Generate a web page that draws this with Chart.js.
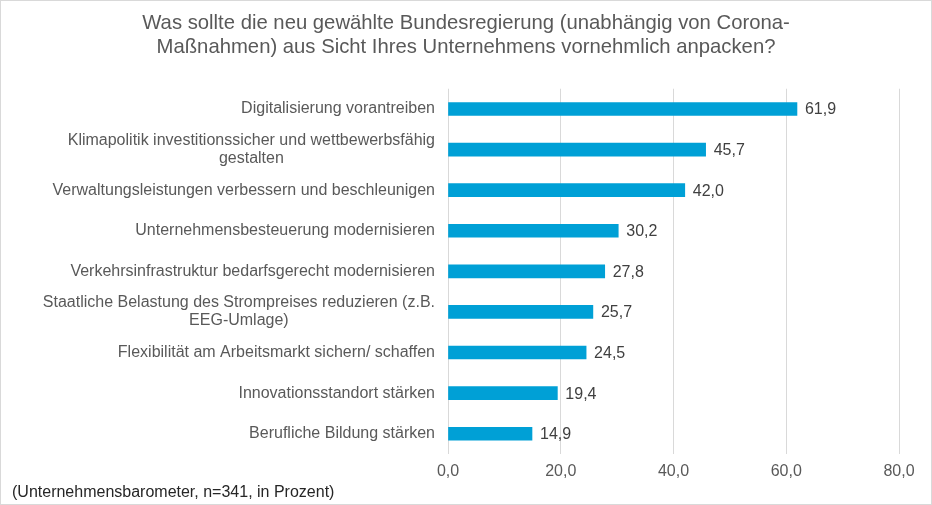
<!DOCTYPE html>
<html>
<head>
<meta charset="utf-8">
<script src="https://cdn.jsdelivr.net/npm/chart.js@4"></script>
<style>
    html, body { margin: 0; padding: 0; background: #fff; }
    #wrap { position: relative; width: 930px; height: 503px; border: 1px solid #d9d9d9; }
</style>
</head>
<body>
<div id="wrap"><canvas id="barChart"></canvas></div>
<script>
// Categories (top to bottom) and their values in percent
const categories = [
    ["Digitalisierung vorantreiben"],
    ["Klimapolitik investitionssicher und wettbewerbsfähig", "gestalten"],
    ["Verwaltungsleistungen verbessern und beschleunigen"],
    ["Unternehmensbesteuerung modernisieren"],
    ["Verkehrsinfrastruktur bedarfsgerecht modernisieren"],
    ["Staatliche Belastung des Strompreises reduzieren (z.B.", "EEG-Umlage)"],
    ["Flexibilität am Arbeitsmarkt sichern/ schaffen"],
    ["Innovationsstandort stärken"],
    ["Berufliche Bildung stärken"]
];
const values = [61.9, 45.7, 42.0, 30.2, 27.8, 25.7, 24.5, 19.4, 14.9];
const xTicks = [0, 20, 40, 60, 80];

const titleLines = [
    "Was sollte die neu gewählte Bundesregierung (unabhängig von Corona-",
    "Maßnahmen) aus Sicht Ihres Unternehmens vornehmlich anpacken?"
];
const footnote = "(Unternehmensbarometer, n=341, in Prozent)";

const fontFamily = "'Liberation Sans', Arial, sans-serif";
const textColor = '#595959';

function fmt(v) {
    return v.toFixed(1).replace('.', ',');
}

// Draws category labels (lines centred under the first line, block right-aligned),
// value labels at the bar ends and the footnote
const labelPlugin = {
    id: 'labelPlugin',
    afterDraw(chart) {
        const ctx = chart.ctx;
        const yScale = chart.scales.y;
        ctx.save();
        ctx.font = '16px ' + fontFamily;
        ctx.fillStyle = textColor;
        ctx.textBaseline = 'middle';

        // category labels
        const rightEdge = chart.chartArea.left - 13;
        const lineH = 18;
        categories.forEach((lines, i) => {
            const yc = yScale.getPixelForTick(i);
            const widths = lines.map(l => ctx.measureText(l).width);
            const maxW = Math.max(...widths);
            const centre = rightEdge - maxW / 2;
            const y0 = yc - (lines.length - 1) * lineH / 2;
            ctx.textAlign = 'center';
            lines.forEach((l, j) => ctx.fillText(l, centre, y0 + j * lineH));
        });

        // value labels
        ctx.fillStyle = '#404040';
        ctx.textAlign = 'left';
        const meta = chart.getDatasetMeta(0);
        meta.data.forEach((bar, i) => {
            ctx.fillText(fmt(values[i]), bar.x + 8, bar.y + 1);
        });

        // footnote
        ctx.fillStyle = '#262626';
        ctx.fillText(footnote, 11, 492);
        ctx.restore();
    }
};

const ctx = document.getElementById('barChart').getContext('2d');
new Chart(ctx, {
    type: 'bar',
    data: {
        labels: categories.map(c => c.join(' ')),
        datasets: [{
            data: values,
            backgroundColor: '#00A0D6',
            barThickness: 13
        }]
    },
    options: {
        indexAxis: 'y',
        responsive: true,
        maintainAspectRatio: false,
        animation: false,
        layout: { padding: { left: 32, right: 32, top: 0, bottom: 0 } },
        plugins: {
            legend: { display: false },
            tooltip: { enabled: false },
            title: {
                display: true,
                text: titleLines,
                color: textColor,
                font: { family: fontFamily, size: 20.3, weight: 'normal', lineHeight: 1.2 },
                padding: { top: 10, bottom: 29 }
            }
        },
        scales: {
            x: {
                min: 0,
                max: 80,
                afterBuildTicks: s => { s.ticks = xTicks.map(v => ({ value: v })); },
                afterFit: s => { s.height = 50; },
                grid: { color: '#d9d9d9', lineWidth: 1, drawTicks: false },
                border: { display: false },
                ticks: {
                    padding: 8,
                    color: textColor,
                    font: { family: fontFamily, size: 16 },
                    callback: v => fmt(v)
                }
            },
            y: {
                afterFit: s => { s.width = 415; },
                grid: { display: false },
                border: { display: false },
                ticks: { display: false }
            }
        }
    },
    plugins: [labelPlugin]
});
</script>
</body>
</html>
